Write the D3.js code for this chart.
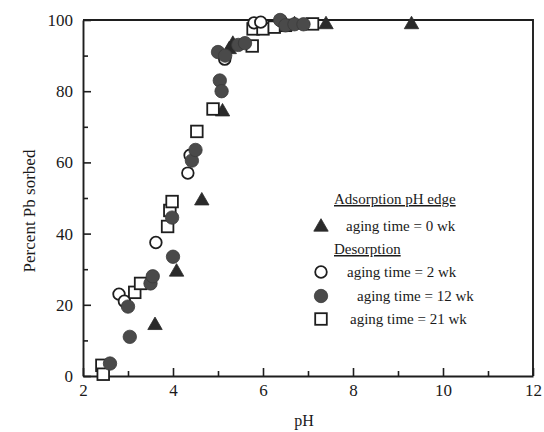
<!DOCTYPE html>
<html>
<head>
<meta charset="utf-8">
<script src="https://cdn.jsdelivr.net/npm/d3@7"></script>
<style>
  html, body { margin: 0; padding: 0; background: #fff; }
  svg { display: block; }
  text { font-family: "Liberation Serif", "DejaVu Serif", serif; fill: #1a1a1a; }
</style>
</head>
<body>
<svg id="chart" width="544" height="432"></svg>
<script>
// Adsorption edge, aging time = 0 wk
const wk0_pH  = [3.6, 4.08, 4.64, 5.1, 5.25, 5.33, 6.7, 7.4, 9.3];
const wk0_pct = [14.5, 29.5, 49.5, 74.5, 92, 93.5, 99, 99, 99];

// Desorption, aging time = 2 wk
const wk2_pH  = [2.8, 2.92, 3.62, 4.33, 4.38, 5.15, 5.8, 5.95, 6.4];
const wk2_pct = [23, 21, 37.5, 57, 62, 89, 99.2, 99.4, 99.8];

// Desorption, aging time = 12 wk
const wk12_pH  = [2.6, 3.04, 3.0, 3.5, 3.55, 4.0, 3.98, 4.42, 4.5, 5.04, 5.08, 5.0, 5.16, 5.45, 5.6, 6.38, 6.5, 6.7, 6.9];
const wk12_pct = [3.5, 11, 19.5, 26, 28, 33.5, 44.5, 60.5, 63.5, 83, 80, 91, 90, 93, 93.5, 100, 98.5, 98.8, 98.8];

// Desorption, aging time = 21 wk
const wk21_pH  = [2.42, 2.45, 3.15, 3.28, 3.88, 3.93, 3.98, 4.53, 4.89, 5.76, 5.78, 6.0, 6.25, 6.5, 7.1];
const wk21_pct = [3, 0.5, 23.5, 26, 42, 46.5, 49, 68.7, 75, 92.7, 97.5, 97.5, 98, 98.5, 98.9];

const xMajor = [2, 4, 6, 8, 10, 12];
const xMinor = [3, 5, 7, 9, 11];
const yMajor = [0, 20, 40, 60, 80, 100];
const yMinor = [10, 30, 50, 70, 90];

const legendItems = [
  { title: "Adsorption pH edge" },
  { shape: "tri", label: "aging time = 0 wk" },
  { title: "Desorption" },
  { shape: "open", label: "aging time = 2 wk" },
  { shape: "filled", label: "aging time = 12 wk" },
  { shape: "square", label: "aging time = 21 wk" }
];

const svg = d3.select("#chart");
const x = d3.scaleLinear().domain([2, 12]).range([83, 533]);
const y = d3.scaleLinear().domain([0, 100]).range([376, 20]);

const ink = "#1e1e1e";

// axes with inward ticks
svg.append("g").attr("transform", `translate(0,${y(0)})`)
  .call(d3.axisBottom(x).tickValues(xMajor).tickSizeInner(-8).tickSizeOuter(0).tickPadding(8).tickFormat(d3.format("d")));
svg.append("g").attr("transform", `translate(0,${y(0)})`)
  .call(d3.axisBottom(x).tickValues(xMinor).tickSizeInner(-5).tickSizeOuter(0).tickFormat(""))
  .select(".domain").remove();

svg.append("g").attr("transform", `translate(${x(2)},0)`)
  .call(d3.axisLeft(y).tickValues(yMajor).tickSizeInner(-8).tickSizeOuter(0).tickPadding(10).tickFormat(d3.format("d")));
svg.append("g").attr("transform", `translate(${x(2)},0)`)
  .call(d3.axisLeft(y).tickValues(yMinor).tickSizeInner(-5).tickSizeOuter(0).tickFormat(""))
  .select(".domain").remove();

svg.selectAll(".domain").attr("stroke", ink).attr("stroke-width", 1.9);
svg.selectAll(".tick line").attr("stroke", ink).attr("stroke-width", 1.6);
svg.selectAll(".tick text").attr("font-family", "Liberation Serif, serif").attr("font-size", 17).attr("fill", "#1a1a1a");

// top and right frame
svg.append("path")
  .attr("d", `M${x(2)},${y(100)}H${x(12)}V${y(0)}`)
  .attr("fill", "none").attr("stroke", ink).attr("stroke-width", 1.9);

// axis titles
svg.append("text")
  .attr("transform", `translate(35,211) rotate(-90)`)
  .attr("text-anchor", "middle").attr("font-size", 17)
  .text("Percent Pb sorbed");
svg.append("text")
  .attr("x", x(7) - 4).attr("y", 426)
  .attr("text-anchor", "middle").attr("font-size", 16)
  .text("pH");

// marker drawers
const triPath = d3.symbol().type(d3.symbolTriangle).size(90);
function drawTri(g, px, py) {
  g.append("path").attr("d", triPath).attr("transform", `translate(${px},${py + 1})`)
    .attr("fill", "#2a2a2a").attr("stroke", "#2a2a2a").attr("stroke-width", 0.8);
}
function drawOpen(g, px, py) {
  g.append("circle").attr("cx", px).attr("cy", py).attr("r", 5.8)
    .attr("fill", "#fff").attr("stroke", ink).attr("stroke-width", 1.8);
}
function drawFilled(g, px, py) {
  g.append("circle").attr("cx", px).attr("cy", py).attr("r", 6.7)
    .attr("fill", "#4a4a4a").attr("stroke", "#3a3a3a").attr("stroke-width", 0.8);
}
function drawSquare(g, px, py) {
  g.append("rect").attr("x", px - 5.8).attr("y", py - 5.8).attr("width", 11.6).attr("height", 11.6)
    .attr("fill", "#fff").attr("stroke", ink).attr("stroke-width", 1.8);
}
const drawers = { tri: drawTri, open: drawOpen, filled: drawFilled, square: drawSquare };

const marks = svg.append("g");
function plotSeries(xs, ys, fn) {
  xs.forEach((v, i) => fn(marks, x(v), y(ys[i])));
}
plotSeries(wk0_pH, wk0_pct, drawTri);
plotSeries(wk21_pH, wk21_pct, drawSquare);
plotSeries(wk2_pH, wk2_pct, drawOpen);
plotSeries(wk12_pH, wk12_pct, drawFilled);

// legend
const lg = svg.append("g");
const rowY = [204, 231, 254, 277, 301, 324];
const textX = [334, 346, 334, 347, 357, 350];
legendItems.forEach((it, i) => {
  if (it.title) {
    lg.append("text").attr("x", textX[i]).attr("y", rowY[i]).attr("font-size", 15)
      .attr("text-decoration", "underline").text(it.title);
  } else {
    drawers[it.shape](lg, 321, rowY[i] - 5);
    lg.append("text").attr("x", textX[i]).attr("y", rowY[i]).attr("font-size", 15).text(it.label);
  }
});
</script>
</body>
</html>
